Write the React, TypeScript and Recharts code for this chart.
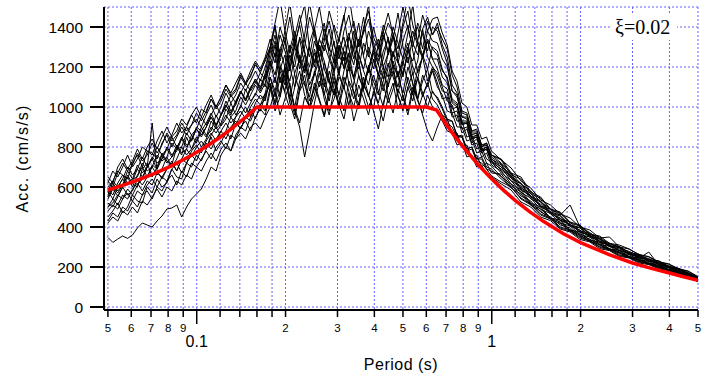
import React from "react";
import { LineChart, Line, XAxis, YAxis, CartesianGrid } from "recharts";

// Common period grid (s) of the computed response spectra
const periods = [
  0.05, 0.05196, 0.05399, 0.0561, 0.0583, 0.06058, 0.06295, 0.06541, 0.06797, 0.07063,
  0.07339, 0.07626, 0.07924, 0.08235, 0.08557, 0.08891, 0.09239, 0.09601, 0.09976, 0.1037,
  0.1077, 0.1119, 0.1163, 0.1209, 0.1256, 0.1305, 0.1356, 0.1409, 0.1464, 0.1522,
  0.1581, 0.1643, 0.1707, 0.1774, 0.1843, 0.1916, 0.199, 0.2068, 0.2149, 0.2233,
  0.2321, 0.2412, 0.2506, 0.2604, 0.2706, 0.2812, 0.2921, 0.3036, 0.3155, 0.3278,
  0.3406, 0.354, 0.3678, 0.3822, 0.3972, 0.4127, 0.4288, 0.4456, 0.463, 0.4812,
  0.5, 0.5196, 0.5399, 0.561, 0.583, 0.6058, 0.6295, 0.6541, 0.6797, 0.7063,
  0.7339, 0.7626, 0.7924, 0.8235, 0.8557, 0.8891, 0.9239, 0.9601, 0.9976,
  1.077, 1.163, 1.256, 1.356, 1.464, 1.581, 1.707, 1.843, 1.99, 2.149,
  2.321, 2.506, 2.706, 2.921, 3.155, 3.406, 3.678, 3.972, 4.288, 4.63, 5.0,
];

// Acceleration response (cm/s/s) of each simulated record, one value per period above
const rec01 = [
  540, 590, 555, 600, 660, 615, 600, 690, 720, 650, 700, 770, 730, 710, 800, 760, 850, 790, 830, 900, 860, 880, 960, 905, 940, 1020, 960, 1000, 1090, 1030, 1060, 1140, 1100,
  1230, 1120, 1290, 1350, 1200, 1100, 1260, 1180, 1320, 1400, 1250, 1140, 1060, 1210, 1300, 1190, 1260, 1380, 1220, 1110, 1180, 1290, 1340, 1200, 1150, 1270, 1220, 1330, 1410, 1280, 1170, 1250, 1330, 1240,
  1190, 1110, 1090, 990, 1000, 910, 920, 840, 860, 780, 790, 730,
  700, 630, 605, 540, 515, 465, 445, 405, 385, 348, 333, 302, 290, 262, 252, 228, 218, 196, 184, 163, 140,
];
const rec02 = [
  450, 480, 520, 470, 500, 560, 530, 520, 600, 570, 640, 600, 620, 690, 650, 640, 720, 700, 760, 730, 790, 850, 780, 820, 880, 840, 920, 890, 950, 930, 990, 1010, 980,
  1100, 980, 1050, 1160, 1020, 940, 1080, 1130, 990, 1060, 1170, 1040, 960, 1090, 1010, 1150, 1080, 930, 1020, 1110, 1060, 990, 1140, 1200, 1050, 970, 1090, 1030, 1150, 1070, 980, 1060, 1120, 1040,
  1010, 960, 920, 900, 850, 850, 790, 800, 740, 750, 700, 690,
  640, 600, 545, 515, 465, 445, 400, 385, 350, 332, 302, 290, 262, 250, 228, 218, 198, 187, 168, 155, 131,
];
const rec03 = [
  620, 680, 650, 700, 760, 700, 740, 800, 780, 760, 830, 880, 820, 860, 920, 870, 900, 960, 920, 990, 970, 1040, 1000, 1050, 1110, 1060, 1090, 1160, 1120, 1150, 1220, 1170, 1240,
  1300, 1410, 1250, 1380, 1520, 1340, 1220, 1300, 1450, 1360, 1240, 1330, 1480, 1390, 1260, 1200, 1350, 1430, 1300, 1380, 1510, 1280, 1210, 1340, 1420, 1370, 1250, 1400, 1480, 1320, 1260, 1390, 1450, 1360,
  1420, 1310, 1250, 1110, 1070, 970, 960, 880, 880, 810, 810, 760,
  735, 660, 640, 565, 545, 485, 470, 420, 405, 362, 350, 312, 303, 272, 264, 236, 232, 203, 194, 170, 149,
];
const rec04 = [
  348, 323, 340, 355, 343, 360, 395, 420, 410, 400, 430, 455, 490, 495, 510, 450, 500, 540, 565, 590, 640, 700, 680, 760, 800, 780, 860, 900, 880, 950, 1000, 980, 1060,
  1120, 1010, 1080, 1190, 1050, 960, 1100, 1160, 1030, 1090, 1200, 1070, 980, 1040, 1150, 1100, 1010, 1120, 1230, 1080, 1000, 1060, 1170, 1110, 1020, 1090, 1180, 1050, 960, 1080, 1140, 1050, 1120, 1180,
  1100, 1060, 980, 970, 900, 900, 830, 840, 770, 780, 720, 705,
  650, 615, 555, 530, 475, 450, 410, 395, 355, 340, 308, 293, 268, 254, 232, 220, 200, 188, 170, 157, 134,
];
const rec05 = [
  560, 620, 580, 610, 680, 640, 650, 720, 680, 700, 760, 730, 750, 820, 790, 800, 870, 830, 900, 880, 920, 970, 910, 960, 1030, 980, 1010, 1080, 1040, 1100, 1130, 1080, 1150,
  1200, 1310, 1150, 1080, 1220, 1340, 1190, 1260, 1110, 1170, 1300, 1230, 1120, 1060, 1180, 1280, 1210, 1330, 1150, 1090, 1200, 1270, 1160, 1240, 1350, 1180, 1100, 1220, 1300, 1160, 1230, 1390, 1250, 1200,
  1150, 1080, 1070, 970, 980, 890, 900, 820, 840, 770, 790, 725,
  690, 655, 590, 555, 505, 475, 435, 415, 375, 360, 325, 310, 283, 270, 245, 236, 212, 201, 180, 168, 142,
];
const rec06 = [
  500, 520, 560, 540, 590, 560, 610, 640, 700, 920, 680, 640, 690, 720, 680, 740, 790, 750, 800, 830, 790, 860, 900, 850, 880, 950, 910, 960, 1000, 950, 1020, 1060, 1030,
  1150, 1050, 1190, 1260, 1100, 1000, 1130, 1210, 1080, 1160, 1240, 1120, 1030, 1150, 1060, 1180, 1270, 1140, 1050, 1110, 1200, 1090, 1020, 1130, 1220, 1150, 1070, 1180, 1250, 1110, 1040, 1160, 1100, 1190,
  1120, 1040, 1050, 950, 960, 870, 890, 810, 820, 750, 770, 710,
  680, 615, 585, 520, 500, 445, 435, 385, 376, 335, 325, 290, 284, 252, 246, 220, 214, 188, 181, 157, 137,
];
const rec07 = [
  600, 630, 680, 660, 640, 720, 760, 700, 780, 770, 740, 820, 860, 800, 850, 900, 860, 910, 940, 900, 960, 1010, 950, 1000, 1070, 1020, 1060, 1120, 1080, 1130, 1180, 1130, 1200,
  1290, 1400, 1230, 1330, 1180, 1300, 1420, 1510, 1290, 1200, 1340, 1280, 1390, 1250, 1160, 1300, 1370, 1240, 1320, 1450, 1270, 1190, 1310, 1380, 1260, 1340, 1470, 1300, 1220, 1350, 1400, 1290, 1430, 1360,
  1400, 1340, 1290, 1160, 1100, 980, 970, 880, 890, 810, 820, 760,
  720, 670, 615, 580, 525, 490, 460, 510, 400, 372, 338, 320, 296, 278, 256, 242, 222, 207, 188, 172, 147,
];
const rec08 = [
  430, 470, 450, 500, 480, 530, 500, 560, 580, 540, 600, 580, 630, 660, 610, 680, 650, 720, 700, 740, 780, 740, 800, 830, 790, 860, 840, 900, 930, 880, 950, 990, 960,
  1080, 1150, 1050, 1200, 1100, 980, 900, 750, 880, 1020, 1130, 1060, 1180, 1090, 1000, 1110, 1200, 1070, 990, 1120, 1050, 1160, 1080, 1000, 1140, 1210, 1060, 980, 1100, 1170, 1040, 1130, 1190, 1070,
  1050, 1000, 940, 930, 860, 850, 780, 790, 730, 720, 690, 655,
  625, 600, 540, 510, 460, 440, 395, 380, 345, 330, 298, 285, 258, 247, 225, 215, 196, 184, 165, 153, 126,
];
const rec09 = [
  650, 620, 700, 740, 690, 730, 790, 740, 800, 840, 790, 850, 900, 850, 880, 940, 910, 960, 1000, 950, 1010, 1060, 1000, 1050, 1110, 1070, 1120, 1170, 1120, 1180, 1230, 1190, 1250,
  1340, 1250, 1400, 1320, 1450, 1300, 1220, 1360, 1520, 1380, 1280, 1350, 1430, 1310, 1240, 1380, 1460, 1330, 1260, 1400, 1480, 1350, 1290, 1410, 1340, 1250, 1370, 1500, 1390, 1300, 1420, 1360, 1280, 1400,
  1380, 1290, 1220, 1080, 1060, 950, 950, 870, 870, 800, 820, 760,
  740, 670, 650, 575, 550, 490, 475, 425, 410, 365, 355, 318, 310, 290, 262, 250, 226, 214, 190, 178, 150,
];
const rec10 = [
  520, 500, 550, 600, 560, 580, 640, 610, 650, 700, 660, 690, 750, 700, 740, 800, 760, 790, 850, 800, 840, 900, 870, 910, 960, 920, 950, 1010, 970, 1020, 1070, 1040, 1060,
  1110, 1020, 1150, 1070, 990, 1100, 1180, 1060, 1000, 1120, 1040, 960, 1090, 1170, 1050, 980, 1130, 1080, 1010, 1150, 1060, 980, 890, 1020, 1110, 1180, 1050, 990, 1100, 1030, 1150, 1070, 1000, 1080,
  1040, 990, 930, 930, 850, 860, 790, 800, 740, 740, 690, 680,
  655, 595, 565, 510, 480, 438, 418, 380, 360, 328, 312, 284, 272, 246, 236, 214, 205, 184, 174, 153, 132,
];
const rec11 = [
  580, 630, 600, 640, 700, 660, 690, 750, 700, 740, 800, 760, 790, 850, 800, 840, 900, 860, 890, 950, 910, 960, 1010, 960, 1000, 1060, 1020, 1070, 1120, 1080, 1120, 1170, 1140,
  1270, 1360, 1210, 1150, 1290, 1380, 1240, 1170, 1300, 1220, 1340, 1420, 1260, 1180, 1310, 1230, 1350, 1280, 1190, 1320, 1250, 1400, 1300, 1200, 1270, 1360, 1230, 1160, 1290, 1380, 1310, 1240, 1340, 1290,
  1260, 1180, 1150, 1040, 1020, 930, 930, 850, 860, 790, 800, 740,
  700, 665, 595, 570, 505, 490, 440, 425, 380, 368, 328, 318, 300, 272, 250, 238, 216, 204, 183, 170, 144,
];
const rec12 = [
  480, 510, 490, 540, 570, 530, 580, 560, 610, 640, 600, 650, 630, 690, 720, 670, 720, 760, 730, 790, 820, 790, 840, 880, 840, 900, 930, 890, 950, 990, 940, 1010, 1040,
  1150, 1080, 1200, 1130, 1040, 1170, 1240, 1110, 1050, 1180, 1100, 1220, 1140, 1060, 1190, 1250, 1120, 1040, 1160, 1090, 1210, 1130, 1060, 1180, 1100, 1230, 1150, 1070, 1200, 1120, 1040, 960, 880, 830,
  900, 960, 940, 870, 870, 800, 810, 740, 760, 700, 720, 670,
  665, 605, 575, 515, 490, 445, 425, 385, 368, 335, 318, 290, 276, 250, 240, 218, 208, 187, 175, 156, 136,
];
const rec13 = [
  630, 600, 670, 720, 680, 710, 770, 730, 760, 820, 770, 810, 870, 830, 860, 920, 880, 910, 970, 930, 980, 1040, 990, 1030, 1090, 1050, 1080, 1150, 1110, 1160, 1210, 1180, 1230,
  1300, 1420, 1540, 1380, 1270, 1350, 1460, 1330, 1250, 1390, 1500, 1360, 1280, 1410, 1330, 1450, 1560, 1400, 1300, 1370, 1440, 1320, 1250, 1380, 1470, 1360, 1290, 1420, 1550, 1410, 1330, 1460, 1380, 1440,
  1450, 1370, 1310, 1180, 1130, 1020, 1000, 910, 910, 840, 850, 780,
  735, 695, 630, 595, 535, 510, 465, 445, 400, 385, 345, 350, 300, 290, 262, 252, 226, 216, 192, 180, 152,
];
const rec14 = [
  420, 450, 430, 480, 460, 500, 470, 530, 510, 550, 590, 550, 600, 580, 630, 610, 660, 640, 700, 680, 730, 770, 730, 790, 820, 780, 840, 870, 840, 900, 920, 890, 950,
  1000, 1080, 960, 1040, 1120, 990, 920, 1050, 1000, 1100, 1030, 950, 1060, 1130, 1010, 940, 1070, 1000, 1110, 1040, 960, 1080, 1010, 930, 1050, 1120, 990, 1060, 980, 1100, 1030, 970, 1060, 1000,
  980, 930, 880, 870, 810, 820, 750, 760, 700, 710, 660, 650,
  615, 585, 525, 500, 450, 432, 390, 375, 338, 325, 292, 282, 253, 245, 220, 212, 191, 182, 162, 152, 127,
];
const rec15 = [
  550, 600, 570, 610, 650, 600, 660, 700, 650, 710, 690, 760, 720, 750, 810, 770, 790, 860, 820, 880, 850, 930, 890, 920, 990, 950, 980, 1050, 1010, 1060, 1110, 1070, 1120,
  1240, 1330, 1180, 1110, 1260, 1200, 1350, 1280, 1160, 1230, 1310, 1190, 1120, 1250, 1340, 1270, 1180, 1300, 1420, 1250, 1170, 1290, 1210, 1140, 1270, 1360, 1220, 1150, 1280, 1230, 1330, 1260, 1190, 1300,
  1280, 1190, 1140, 1030, 1010, 920, 920, 840, 850, 780, 800, 740,
  710, 645, 615, 550, 525, 470, 455, 405, 395, 352, 340, 305, 296, 264, 258, 230, 224, 198, 190, 165, 145,
];
const rec16 = [
  590, 560, 620, 660, 620, 640, 710, 670, 700, 750, 720, 740, 800, 760, 790, 850, 810, 830, 890, 860, 900, 950, 910, 960, 1010, 970, 1030, 1080, 1030, 1090, 1140, 1100, 1160,
  1230, 1160, 1290, 1200, 1130, 1250, 1340, 1210, 1140, 1270, 1190, 1310, 1240, 1170, 1280, 1350, 1220, 1150, 1260, 1190, 1300, 1230, 1160, 1280, 1340, 1210, 1150, 1250, 1320, 1200, 1140, 1260, 1330, 1240,
  1240, 1150, 1120, 1020, 1000, 920, 920, 840, 850, 780, 790, 730,
  685, 645, 585, 555, 500, 475, 432, 412, 374, 358, 322, 310, 280, 270, 244, 275, 210, 200, 178, 167, 142,
];
const rec17 = [
  500, 540, 510, 560, 540, 590, 620, 580, 630, 610, 670, 650, 690, 730, 680, 740, 720, 780, 810, 770, 830, 870, 830, 880, 920, 880, 950, 980, 940, 1000, 1040, 1010, 1070,
  1180, 1270, 1120, 1200, 1310, 1160, 1080, 1220, 1150, 1290, 1190, 1100, 1230, 1330, 1170, 1090, 1210, 1140, 1260, 1180, 1110, 1240, 1160, 1080, 1200, 1280, 1150, 1230, 1120, 1060, 1190, 1250, 1130, 1200,
  1170, 1100, 1030, 1010, 930, 930, 850, 860, 790, 800, 740, 725,
  670, 632, 572, 545, 488, 468, 420, 405, 362, 350, 312, 304, 272, 262, 236, 228, 204, 196, 173, 163, 139,
];
const rec18 = [
  580, 540, 600, 640, 610, 630, 690, 650, 700, 740, 690, 740, 790, 750, 780, 840, 800, 840, 890, 850, 900, 950, 900, 960, 1010, 960, 1020, 1080, 1030, 1090, 1140, 1090, 1170,
  1300, 1220, 1360, 1280, 1190, 1320, 1410, 1270, 1200, 1330, 1250, 1390, 1300, 1220, 1350, 1460, 1290, 1210, 1340, 1260, 1380, 1300, 1230, 1360, 1280, 1400, 1320, 1240, 1370, 1510, 1310, 1250, 1380, 1330,
  1320, 1240, 1200, 1080, 1050, 950, 940, 860, 870, 800, 810, 750,
  715, 650, 620, 555, 530, 475, 460, 410, 398, 355, 344, 306, 298, 265, 260, 230, 226, 198, 192, 166, 146,
];

const records = [
  rec01, rec02, rec03, rec04, rec05, rec06, rec07, rec08, rec09,
  rec10, rec11, rec12, rec13, rec14, rec15, rec16, rec17, rec18,
];

// Target (design) spectrum
const targetPeriods = [
  0.05, 0.055, 0.06, 0.065, 0.07, 0.075, 0.08, 0.085, 0.09, 0.095, 0.1,
  0.11, 0.12, 0.13, 0.14, 0.15, 0.16, 0.6, 0.65, 0.7, 0.75, 0.8, 0.9, 1.0,
  1.1, 1.2, 1.35, 1.5, 1.75, 2.0, 2.5, 3.0, 3.5, 4.0, 4.5, 5.0,
];
const targetAcc = [
  585, 604, 623, 642, 660, 679, 698, 717, 736, 755, 774,
  811, 849, 887, 925, 962, 1000, 1000, 985, 914, 853, 800, 711, 640,
  582, 533, 474, 427, 366, 322, 262, 220, 192, 170, 150, 133,
];

const xTicks = [
  0.05, 0.06, 0.07, 0.08, 0.09, 0.1, 0.12, 0.14, 0.16, 0.18,
  0.2, 0.3, 0.4, 0.5, 0.6, 0.7, 0.8, 0.9, 1, 1.2, 1.4, 1.6, 1.8, 2, 3, 4, 5,
];
const xTickLabels = [
  "5", "6", "7", "8", "9", "0.1", "", "", "", "",
  "2", "3", "4", "5", "6", "7", "8", "9", "1", "", "", "", "", "2", "3", "4", "5",
];
const majorTicks = [0.1, 1];
const yTicks = [0, 200, 400, 600, 800, 1000, 1200, 1400];

const FONT = "'Liberation Sans', Arial, sans-serif";

const rows = periods.map((p, i) => {
  const row: Record<string, number> = { period: p };
  records.forEach((r, j) => {
    row[`r${j}`] = r[i];
  });
  return row;
});

const target = targetPeriods.map((p, i) => ({ period: p, acc: targetAcc[i] }));

function PeriodTick({ x, y, payload }: any) {
  const i = xTicks.indexOf(payload.value);
  const label = i >= 0 ? xTickLabels[i] : "";
  const major = majorTicks.includes(payload.value);
  return (
    <g>
      <line x1={x} y1={y} x2={x} y2={y + (major ? 14 : 7)} stroke="#000" strokeWidth={1.5} />
      {label && (
        <text
          x={x}
          y={y + (major ? 36.5 : 21.5)}
          textAnchor="middle"
          fontSize={major ? 16 : 11.5}
          fontFamily={FONT}
          fill="#000"
        >
          {label}
        </text>
      )}
    </g>
  );
}

function AccTick({ x, y, payload }: any) {
  return (
    <g>
      <line x1={x - 14} y1={y} x2={x} y2={y} stroke="#000" strokeWidth={2} />
      <text x={x - 21} y={y + 5.5} textAnchor="end" fontSize={15.5} fontFamily={FONT} fill="#000">
        {payload.value}
      </text>
    </g>
  );
}

export default function App() {
  return (
    <div style={{ position: "absolute", left: 0, top: 0, width: 701, height: 380, background: "#fff" }}>
      <LineChart width={701} height={380} data={rows} margin={{ top: 7, right: 3, bottom: 0, left: 0 }}>
        <CartesianGrid stroke="#6262ff" strokeDasharray="2 2" strokeWidth={1} />
        <XAxis
          dataKey="period"
          type="number"
          scale="log"
          domain={[0.0485, 5]}
          allowDataOverflow
          ticks={xTicks}
          interval={0}
          height={70}
          tickSize={0}
          tickMargin={0}
          tickLine={false}
          axisLine={{ stroke: "#000", strokeWidth: 2 }}
          tick={<PeriodTick />}
          label={{
            content: ({ viewBox }: any) => (
              <text
                x={viewBox.x + viewBox.width / 2}
                y={viewBox.y + 59.5}
                textAnchor="middle"
                fontSize={16}
                fontFamily={FONT}
                letterSpacing={0.5}
                fill="#000"
              >
                Period (s)
              </text>
            ),
          }}
        />
        <YAxis
          type="number"
          domain={[-15, 1500]}
          allowDataOverflow
          ticks={yTicks}
          interval={0}
          width={104}
          tickSize={0}
          tickMargin={0}
          tickLine={false}
          axisLine={{ stroke: "#000", strokeWidth: 2 }}
          tick={<AccTick />}
          label={{
            content: ({ viewBox }: any) => {
              const cx = 28;
              const cy = viewBox.y + viewBox.height / 2;
              return (
                <text
                  x={cx}
                  y={cy}
                  transform={`rotate(-90, ${cx}, ${cy})`}
                  textAnchor="middle"
                  fontSize={16}
                  fontFamily={FONT}
                  letterSpacing={1.2}
                  fill="#000"
                >
                  Acc. (cm/s/s)
                </text>
              );
            },
          }}
        />
        {records.map((_, j) => (
          <Line
            key={j}
            dataKey={`r${j}`}
            type="linear"
            stroke="#000"
            strokeWidth={1}
            dot={false}
            activeDot={false}
            isAnimationActive={false}
          />
        ))}
        <Line
          data={target}
          dataKey="acc"
          type="linear"
          stroke="#ff0000"
          strokeWidth={3.5}
          dot={false}
          activeDot={false}
          isAnimationActive={false}
        />
      </LineChart>
      <svg width={701} height={380} style={{ position: "absolute", left: 0, top: 0, pointerEvents: "none" }}>
        <rect x={612} y={13} width={65} height={27} fill="#fff" />
        <text x={615} y={33.5} fontSize={20} fontFamily="'Liberation Serif', 'Times New Roman', serif" fill="#000">
          ξ=0.02
        </text>
      </svg>
    </div>
  );
}
